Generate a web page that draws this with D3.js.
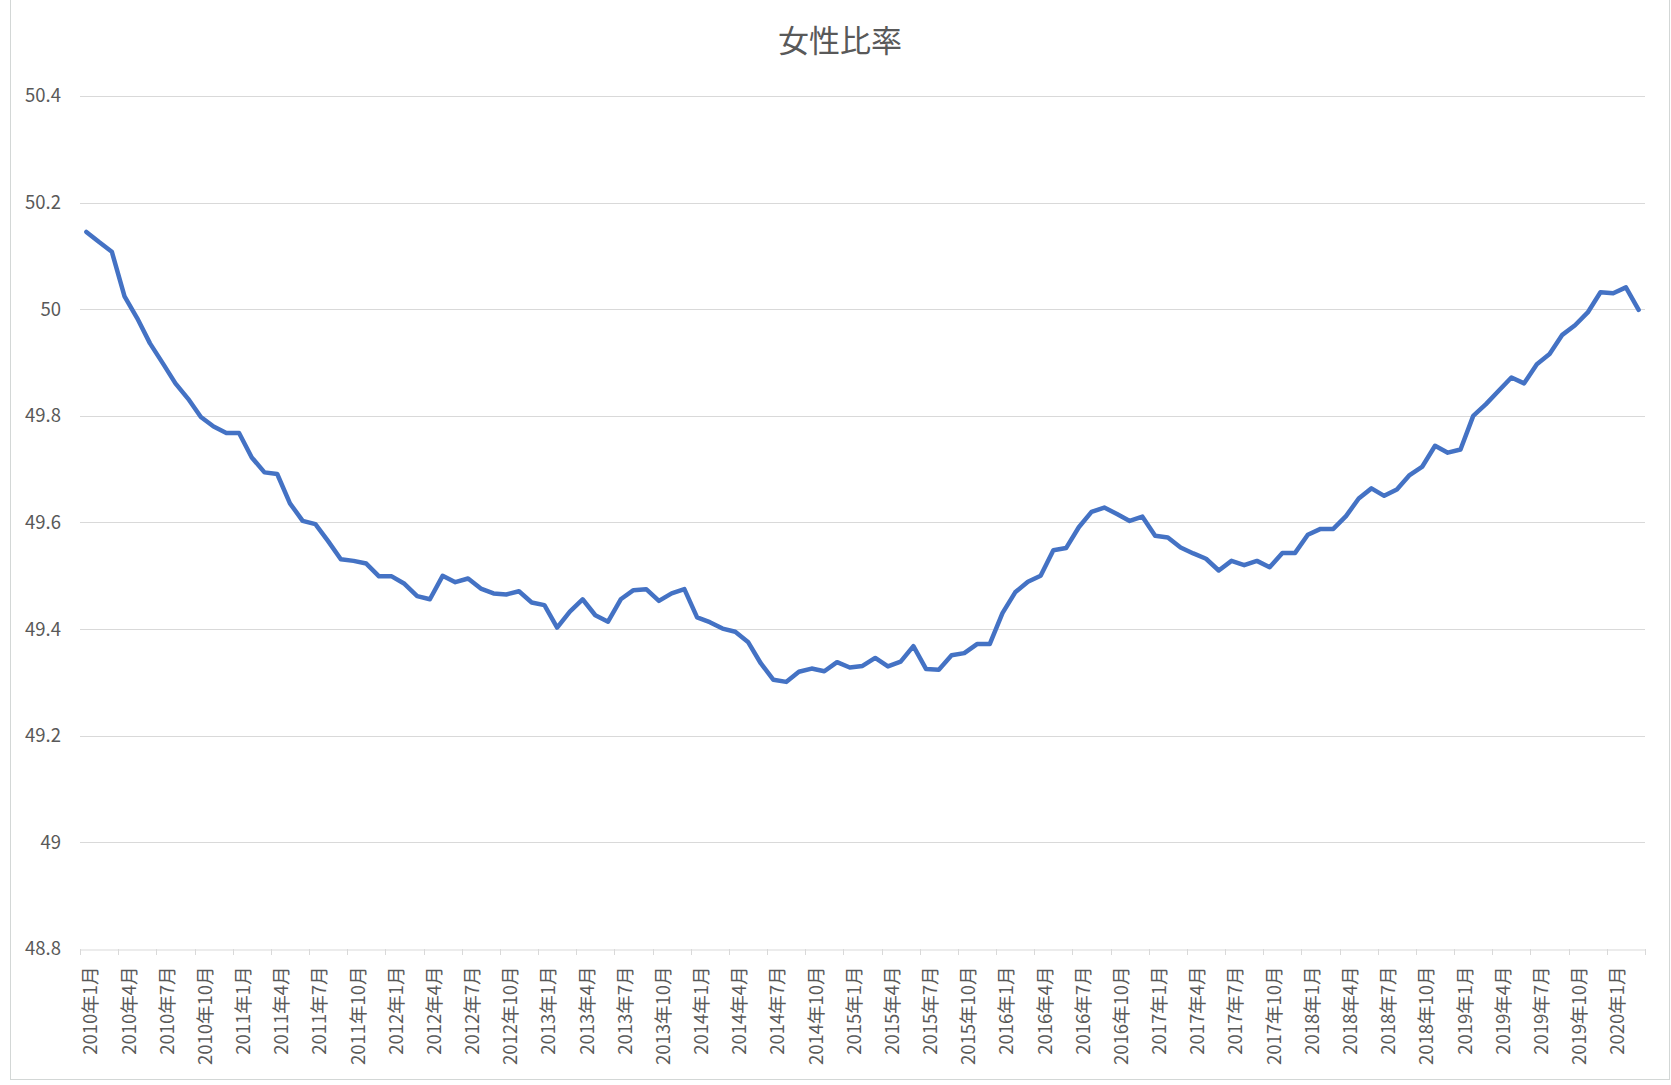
<!DOCTYPE html>
<html>
<head>
<meta charset="utf-8">
<script src="https://cdn.jsdelivr.net/npm/d3@7"></script>
<style>
  html, body { margin: 0; padding: 0; background: #ffffff; }
  svg { display: block; }
  text { font-family: "Noto Sans CJK JP", "Noto Sans", sans-serif; }
</style>
</head>
<body>
<svg id="chart" width="1671" height="1085"></svg>
<script>
// ---- data ----
const title = "女性比率";
const startYear = 2010;
const monthCount = 123; // 2010年1月 .. 2020年3月
const categories = [];
for (let i = 0; i < monthCount; i++) {
  categories.push((startYear + Math.floor(i / 12)) + "年" + ((i % 12) + 1) + "月");
}
const values = [
  50.145, 50.126, 50.108, 50.024, 49.983, 49.936, 49.899, 49.861, 49.832, 49.798, 49.780, 49.768,
  49.768, 49.722, 49.694, 49.691, 49.636, 49.603, 49.597, 49.565, 49.531, 49.528, 49.523, 49.499,
  49.499, 49.485, 49.462, 49.456, 49.500, 49.488, 49.495, 49.476, 49.467, 49.465, 49.471, 49.450,
  49.445, 49.403, 49.433, 49.456, 49.426, 49.414, 49.456, 49.473, 49.475, 49.453, 49.467, 49.475,
  49.422, 49.413, 49.401, 49.395, 49.376, 49.336, 49.305, 49.301, 49.320, 49.326, 49.321, 49.338,
  49.328, 49.331, 49.346, 49.330, 49.339, 49.368, 49.325, 49.324, 49.351, 49.355, 49.372, 49.372,
  49.430, 49.469, 49.489, 49.500, 49.548, 49.552, 49.591, 49.620, 49.628, 49.616, 49.603, 49.611,
  49.575, 49.572, 49.553, 49.542, 49.532, 49.510, 49.528, 49.520, 49.528, 49.516, 49.543, 49.543,
  49.577, 49.588, 49.588, 49.612, 49.645, 49.664, 49.650, 49.662, 49.689, 49.705, 49.744, 49.731,
  49.737, 49.800, 49.822, 49.847, 49.872, 49.861, 49.897, 49.916, 49.952, 49.970, 49.994, 50.032,
  50.030, 50.041, 49.999
];
const yTicks = [48.8, 49.0, 49.2, 49.4, 49.6, 49.8, 50.0, 50.2, 50.4];
const yTickLabels = ["48.8", "49", "49.2", "49.4", "49.6", "49.8", "50", "50.2", "50.4"];
const labelEvery = 3;

// ---- layout ----
const plot = { left: 80, right: 1645, top: 96, bottom: 949 };
const svg = d3.select("#chart");

// chart border
svg.append("rect")
  .attr("x", 10.5).attr("y", -5)
  .attr("width", 1659).attr("height", 1084.5)
  .attr("fill", "#ffffff")
  .attr("stroke", "#d3d7d6").attr("stroke-width", 1);

const x = d3.scaleBand().domain(categories).range([plot.left, plot.right]).paddingInner(0).paddingOuter(0);
const y = d3.scaleLinear().domain([48.8, 50.4]).range([plot.bottom, plot.top]);
const bw = x.bandwidth();

// gridlines
svg.append("g").selectAll("line").data(yTicks.slice(1)).join("line")
  .attr("x1", plot.left).attr("x2", plot.right)
  .attr("y1", d => Math.round(y(d)) + 0.5).attr("y2", d => Math.round(y(d)) + 0.5)
  .attr("stroke", "#d9d9d9").attr("stroke-width", 1);

// y labels
svg.append("g").selectAll("text").data(yTicks).join("text")
  .attr("x", 61).attr("y", d => y(d))
  .attr("dy", "0.35em")
  .attr("text-anchor", "end")
  .attr("font-size", 18.5)
  .attr("fill", "#595959")
  .text((d, i) => yTickLabels[i]);

// x axis
const xAxis = d3.axisBottom(x)
  .tickValues(categories.filter((c, i) => i % labelEvery === 0))
  .tickSize(0).tickPadding(0);
const gx = svg.append("g").attr("transform", `translate(0,${Math.round(plot.bottom) + 0.5})`).call(xAxis);
gx.select(".domain").attr("stroke", "#d9d9d9").attr("stroke-width", 1);
gx.selectAll(".tick text")
  .attr("font-family", "\"Noto Sans CJK JP\", sans-serif")
  .attr("font-size", 18.5)
  .attr("fill", "#595959")
  .attr("text-anchor", "end")
  .attr("dominant-baseline", "central")
  .attr("transform", "translate(3,17) rotate(-90)")
  .attr("x", 0).attr("y", 0).attr("dy", null);

// tick marks between category groups
const tickPos = d3.range(0, monthCount + 1, labelEvery).map(i => plot.left + i * bw);
svg.append("g").selectAll("line").data(tickPos).join("line")
  .attr("x1", d => Math.round(d) + 0.5).attr("x2", d => Math.round(d) + 0.5)
  .attr("y1", Math.round(plot.bottom)).attr("y2", Math.round(plot.bottom) + 6)
  .attr("stroke", "#d9d9d9").attr("stroke-width", 1);

// line
const line = d3.line()
  .x((d, i) => x(categories[i]) + bw / 2)
  .y(d => y(d));
svg.append("path")
  .datum(values)
  .attr("d", line)
  .attr("fill", "none")
  .attr("stroke", "#4472C4")
  .attr("stroke-width", 4.5)
  .attr("stroke-linejoin", "round")
  .attr("stroke-linecap", "round");

// title
svg.append("text")
  .attr("x", 840).attr("y", 41)
  .attr("dy", "0.35em")
  .attr("text-anchor", "middle")
  .attr("font-size", 31)
  .attr("fill", "#595959")
  .text(title);
</script>
</body>
</html>
